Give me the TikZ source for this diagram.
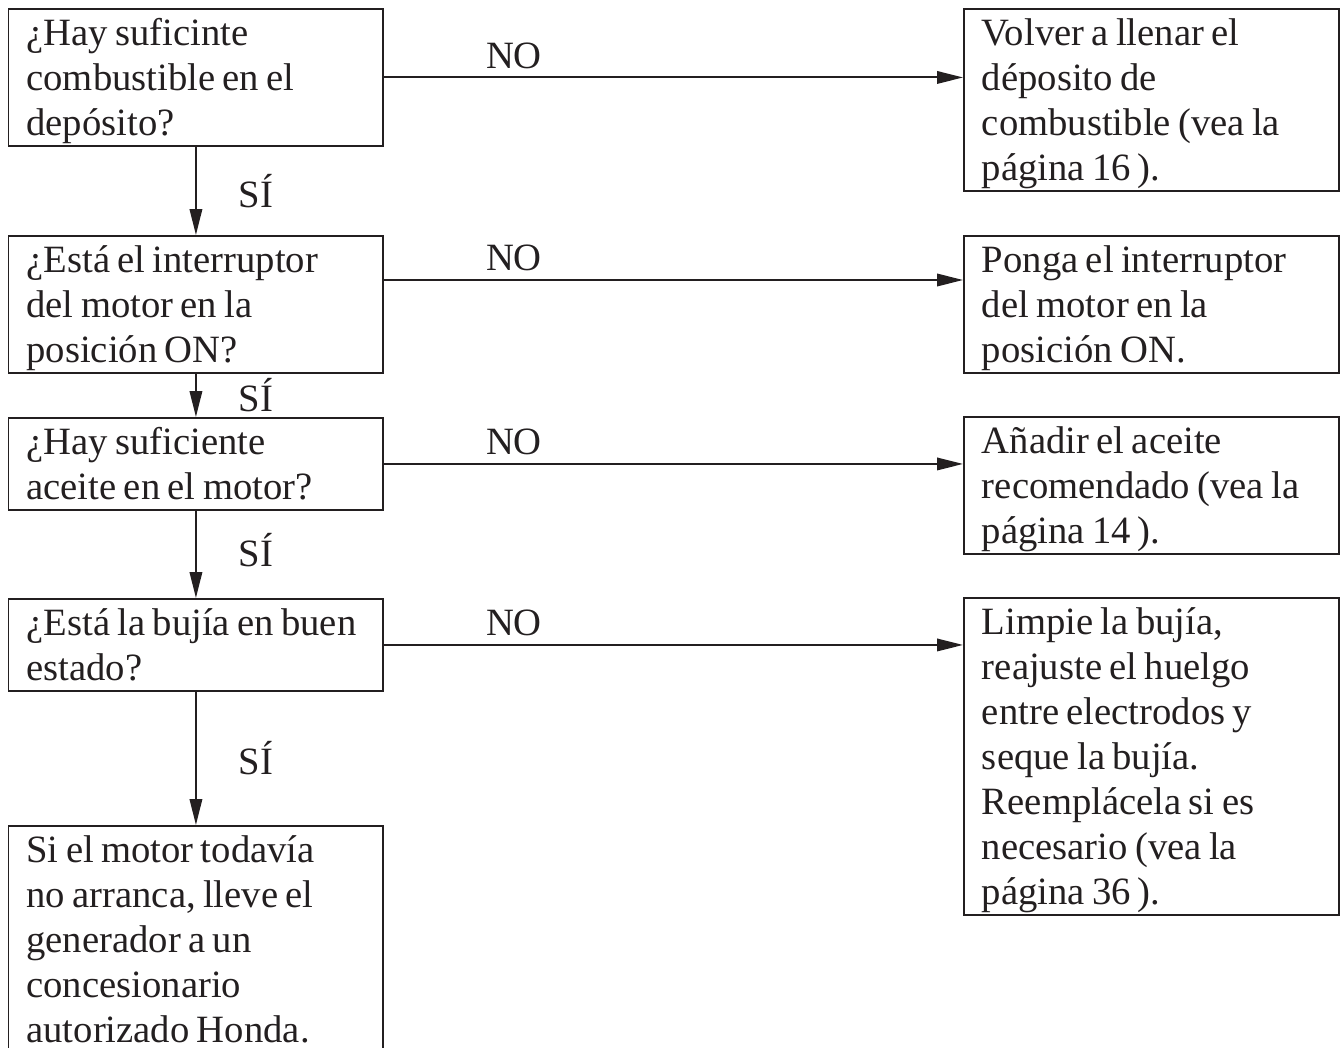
\documentclass[tikz,border=0pt]{standalone}
\usepackage{fontspec}
\setmainfont{Liberation Serif}
\usepackage{tikz}
\usetikzlibrary{positioning,arrows.meta,calc}
\definecolor{ink}{HTML}{231F20}
\newcommand{\flowfont}{\fontsize{22}{25.6}\selectfont}
\newcommand{\tightspace}{\spaceskip=0.19em plus 0.1em minus 0.05em\relax}

\begin{document}
\begin{tikzpicture}[
  x=0.02cm,y=-0.02cm,
  every node/.style={font=\flowfont,text=ink,execute at begin node=\tightspace},
  box/.style={draw=ink,line width=1.1pt,anchor=north west,align=left,text width=6.78cm,inner xsep=0.36cm,inner ysep=0pt,text height=0.74cm},
  tag/.style={inner sep=0pt},
  arrow/.style={-{Triangle[length=0.52cm,width=0.25cm]},line width=1.1pt,draw=ink}
]
  \clip (0,0) rectangle (1343,1048);
  % questions
  \node[box,text depth=2.0cm] (b1) at (7.5,8) {¿Hay suficinte\\combustible en el\\depósito?};
  \node[box,text depth=2.0cm] (b2) at (7.5,235) {¿Está el interruptor\\del motor en la\\posición ON?};
  \node[box,text depth=1.1cm] (b3) at (7.5,417) {¿Hay suficiente\\aceite en el motor?};
  \node[box,text depth=1.1cm] (b4) at (7.5,598) {\mbox{¿Está la bujía en buen}\\estado?};
  \node[box,text depth=3.8cm] (b5) at (7.5,825) {Si el motor todavía\\no arranca, lleve el\\generador a un\\concesionario\\autorizado Honda.};
  % what to do
  \node[box,text depth=2.9cm] (r1) at (963,8) {Volver a llenar el\\déposito de\\combustible (vea la\\página 16\,).};
  \node[box,text depth=2.0cm] (r2) at (963,235) {Ponga el interruptor\\del motor en la\\posición ON.};
  \node[box,text depth=2.0cm] (r3) at (963,416) {Añadir el aceite\\recomendado (vea la\\página 14\,).};
  \node[box,text depth=5.6cm] (r4) at (963,597) {Limpie la bujía,\\reajuste el huelgo\\entre electrodos y\\seque la bujía.\\Reemplácela si es\\necesario (vea la\\página 36\,).};
  \coordinate (n2) at ($(b2.north east)+(0,45)$);
  % yes
  \draw[arrow] (b1) -- node[tag,midway,right=0.84cm] {SÍ} (b2);
  \draw[arrow] (b2) -- node[tag,midway,right=0.84cm] {SÍ} (b3);
  \draw[arrow] (b3) -- node[tag,pos=0.45,right=0.84cm] {SÍ} (b4);
  \draw[arrow] (b4) -- node[tag,midway,right=0.84cm] {SÍ} (b5);
  % no
  \draw[arrow] (b1.east) -- node[tag,pos=0.224,above=0.16cm] {NO} (b1.east -| r1.west);
  \draw[arrow] (n2) -- node[tag,pos=0.224,above=0.16cm] {NO} (n2 -| r2.west);
  \draw[arrow] (b3.east) -- node[tag,pos=0.224,above=0.16cm] {NO} (b3.east -| r3.west);
  \draw[arrow] (b4.east) -- node[tag,pos=0.224,above=0.16cm] {NO} (b4.east -| r4.west);
\end{tikzpicture}
\end{document}
